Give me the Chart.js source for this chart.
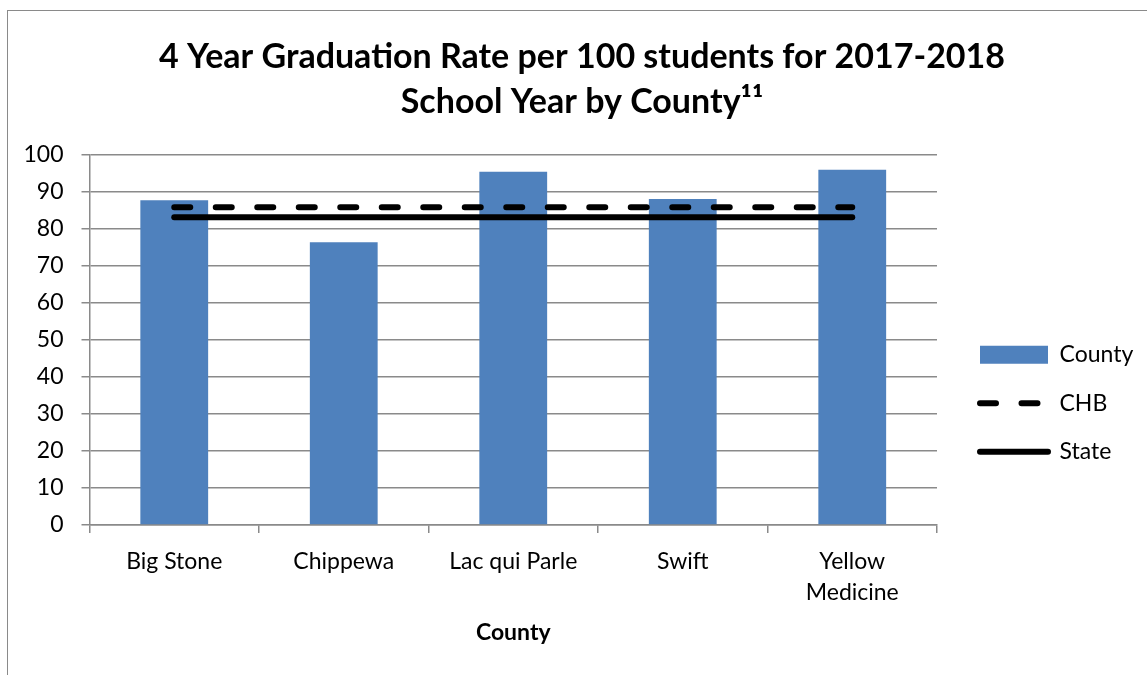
<!DOCTYPE html>
<html>
<head>
<meta charset="utf-8">
<title>4 Year Graduation Rate by County</title>
<script src="https://cdn.jsdelivr.net/npm/chart.js@4.4.1/dist/chart.umd.min.js"></script>
<style>
  html, body { margin: 0; padding: 0; background: #fff; overflow: hidden; }
  #frame {
    position: absolute; left: 7px; top: 10px; width: 1200px; height: 700px;
    border: 1px solid #8a8a8a; box-sizing: border-box;
  }
  #chart { position: absolute; left: 0; top: 0; }
</style>
</head>
<body>
<div id="frame"></div>
<canvas id="chart" width="1147" height="675"></canvas>
<script>
// graduation rates per 100 students, 2017-2018
const counties = ['Big Stone', 'Chippewa', 'Lac qui Parle', 'Swift', ['Yellow', 'Medicine']];
const countyRates = [87.8, 76.4, 95.5, 88.1, 96.0];
const chbRate = 85.9;
const stateRate = 83.2;
const yTicks = [0, 10, 20, 30, 40, 50, 60, 70, 80, 90, 100];

const FONT = 'Lato, "Open Sans", sans-serif';
const GRID = '#8a8a8a';

// reference lines run across every county
const chbLine = counties.map(() => chbRate);
const stateLine = counties.map(() => stateRate);

// put the legend beside the plot, centred on plot + axis labels
const legendSpot = {
    id: 'legendSpot',
    afterLayout(chart) {
        const lg = chart.legend;
        const area = chart.chartArea;
        const w = lg.width;
        lg.left = area.right + 17.5;
        lg.right = lg.left + w;
        lg.top = area.top + 5;
        lg.bottom = chart.scales.x.bottom;
        lg.height = lg.bottom - lg.top;
    }
};

// point-style legend entries lose the dash pattern, copy it back from the dataset
function legendLabels(chart) {
    const items = Chart.defaults.plugins.legend.labels.generateLabels(chart);
    items.forEach(item => {
        const ds = chart.data.datasets[item.datasetIndex];
        item.lineDash = ds.borderDash || [];
        item.lineCap = ds.borderCapStyle || 'butt';
    });
    return items;
}

new Chart(document.getElementById('chart'), {
    data: {
        labels: counties,
        datasets: [
            {
                type: 'bar',
                label: 'County',
                data: countyRates,
                backgroundColor: '#4f81bd',
                borderWidth: 0,
                pointStyle: 'rect',
                categoryPercentage: 1,
                barPercentage: 0.4,
                order: 1
            },
            {
                type: 'line',
                label: 'CHB',
                data: chbLine,
                borderColor: '#000',
                backgroundColor: '#000',
                borderWidth: 6,
                borderDash: [16, 25.5],
                borderCapStyle: 'round',
                pointRadius: 0,
                pointStyle: 'line',
                fill: false,
                order: 0
            },
            {
                type: 'line',
                label: 'State',
                data: stateLine,
                borderColor: '#000',
                backgroundColor: '#000',
                borderWidth: 6,
                borderCapStyle: 'round',
                pointRadius: 0,
                pointStyle: 'line',
                fill: false,
                order: 0
            }
        ]
    },
    options: {
        responsive: false,
        animation: false,
        events: [],
        layout: { padding: { left: 17, right: 0, top: 0, bottom: 28.4 } },
        scales: {
            x: {
                grid: {
                    display: true,
                    drawOnChartArea: false,
                    color: GRID,
                    lineWidth: 1.5,
                    tickLength: 8
                },
                border: { color: GRID, width: 1.5 },
                ticks: {
                    color: '#000',
                    font: { family: FONT, size: 23, lineHeight: 1.35 },
                    padding: 13,
                    maxRotation: 0,
                    autoSkip: false
                },
                title: {
                    display: true,
                    text: 'County',
                    color: '#000',
                    font: { family: FONT, size: 23, weight: 'bold', lineHeight: 1.2 },
                    padding: { top: -2, bottom: 0 }
                }
            },
            y: {
                min: 0,
                max: 100,
                afterBuildTicks: (scale) => { scale.ticks = yTicks.map(v => ({ value: v })); },
                afterFit: (scale) => { scale.width = 72.5; },
                grid: { color: GRID, lineWidth: 1.5, tickLength: 8 },
                border: { color: GRID, width: 1.5 },
                ticks: {
                    color: '#000',
                    font: { family: FONT, size: 23 },
                    padding: 18
                }
            },
            // empty strip on the right that holds the legend
            gap: {
                type: 'linear',
                position: 'right',
                grid: { display: false },
                border: { display: false },
                ticks: { display: false },
                afterFit: (scale) => { scale.width = 210; }
            }
        },
        plugins: {
            title: {
                display: true,
                text: ['4 Year Graduation Rate per 100 students for 2017-2018', 'School Year by County\u00b9\u00b9'],
                color: '#000',
                font: { family: FONT, size: 34, weight: 'bold', lineHeight: 1.324 },
                padding: { top: 34.5, bottom: 30.5 }
            },
            legend: {
                position: 'chartArea',
                labels: {
                    usePointStyle: true,
                    pointStyleWidth: 68,
                    boxHeight: 18,
                    padding: 25.5,
                    color: '#000',
                    font: { family: FONT, size: 23 },
                    generateLabels: legendLabels,
                    sort: (a, b) => a.datasetIndex - b.datasetIndex
                }
            },
            tooltip: { enabled: false }
        }
    },
    plugins: [legendSpot]
});
</script>
</body>
</html>
